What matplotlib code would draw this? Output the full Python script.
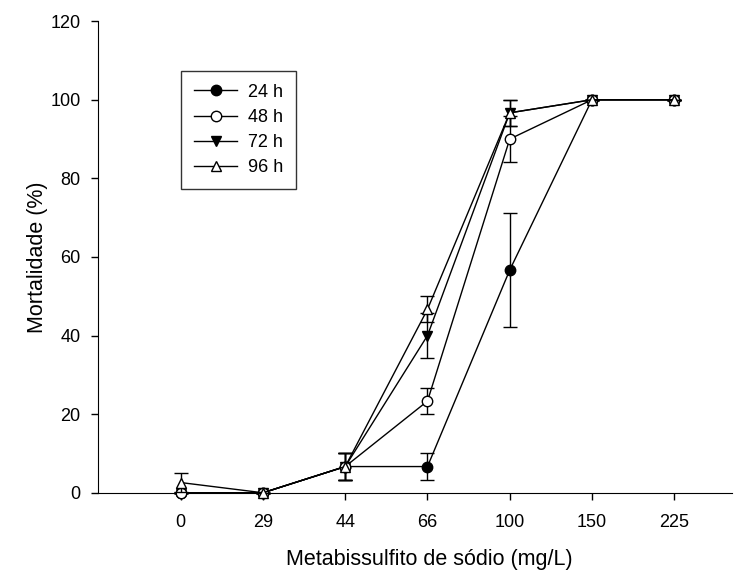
import matplotlib.pyplot as plt
import numpy as np
from matplotlib.lines import Line2D

plt.rcParams["font.family"] = ["Liberation Sans", "DejaVu Sans"]

doses = ["0", "29", "44", "66", "100", "150", "225"]

mort_24h = [0, 0, 6.67, 6.67, 56.67, 100, 100]
err_24h = [0, 0, 3.33, 3.33, 14.5, 0, 0]
mort_48h = [0, 0, 6.67, 23.33, 90.0, 100, 100]
err_48h = [0, 0, 3.33, 3.33, 5.77, 0, 0]
mort_72h = [0, 0, 6.67, 40.0, 96.67, 100, 100]
err_72h = [0, 0, 3.33, 5.77, 3.33, 0, 0]
mort_96h = [2.6, 0, 6.67, 46.67, 96.67, 100, 100]
err_96h = [2.5, 0, 3.33, 3.33, 3.33, 0, 0]

# label, values, errors, marker, face colour, drawing order
series = [
    ("24 h", mort_24h, err_24h, "o", "black", 3),
    ("48 h", mort_48h, err_48h, "o", "white", 5),
    ("72 h", mort_72h, err_72h, "v", "black", 4),
    ("96 h", mort_96h, err_96h, "^", "white", 6),
]

fig = plt.figure(figsize=(7.46, 5.71), dpi=100)
ax = fig.add_axes([0.132, 0.137, 0.849, 0.826])

x = np.arange(len(doses))
handles = []
for label, y, err, marker, face, z in series:
    ax.errorbar(
        x, y, yerr=err, color="black", linewidth=1.0, elinewidth=1.0,
        capsize=4.7, capthick=1.0, marker=marker, markersize=7.5,
        markerfacecolor=face, markeredgecolor="black", markeredgewidth=1.0,
        clip_on=False, zorder=z,
    )
    handles.append(Line2D([], [], color="black", linewidth=1.0, marker=marker,
                          markersize=7.5, markerfacecolor=face,
                          markeredgecolor="black", label=label))

ax.set_xlim(-1.0, 6.7)
ax.set_ylim(0, 120)
ax.set_xticks(x)
ax.set_xticklabels(doses)
ax.set_yticks(range(0, 121, 20))
ax.tick_params(direction="out", length=5, width=1, labelsize=13)
ax.tick_params(axis="x", pad=10)
ax.tick_params(axis="y", pad=8)
ax.spines["top"].set_visible(False)
ax.spines["right"].set_visible(False)

ax.set_xlabel("Metabissulfito de sódio (mg/L)", fontsize=15.5)
ax.set_ylabel("Mortalidade (%)", fontsize=15.5)
ax.xaxis.set_label_coords(0.523, -0.12)
ax.yaxis.set_label_coords(-0.08, 0.5)

leg = ax.legend(
    handles=handles, loc="upper left", bbox_to_anchor=(0.131, 0.894),
    fontsize=13, frameon=True, fancybox=False, edgecolor="black",
    handlelength=2.4, labelspacing=0.45, borderpad=0.7, handletextpad=0.6,
    borderaxespad=0,
)
leg.get_frame().set_linewidth(1.0)

plt.savefig("out.png", dpi=100)
